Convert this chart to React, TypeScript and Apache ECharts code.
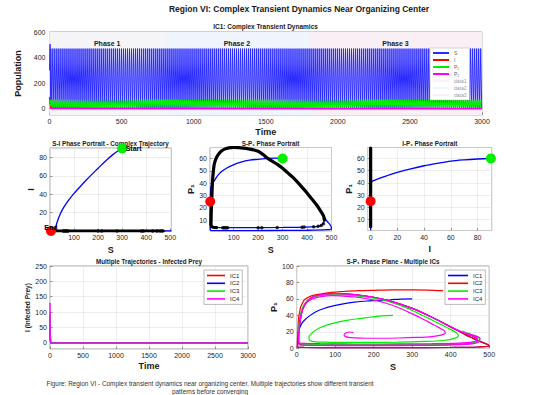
import React, { useEffect, useRef } from 'react';
import * as echarts from 'echarts';

const FONT = '"Liberation Sans", Arial, Helvetica, sans-serif';

// ---------- Top panel: IC1 time series ----------
const phaseNames = ['Phase 1', 'Phase 2', 'Phase 3'];
const phaseBounds = [0, 800, 1800, 3000];
const phaseColors = ['#f5f5f7', '#eff5fb', '#f9f0f6'];
const phaseSeriesNames = ['data1', 'data2', 'data3'];
const sOnset = [[0, 300], [4, 505], [9, 40]];
const sPeakTrough = [470, 2];
const p1Onset = [[0, 60], [4, 66], [9, 20]];
const p1PeakTrough = [70, 5];
const oscillationPeriod = 14;
const tEnd = 3000;
const iIC1 = [[0, 90], [3, 40], [8, 5], [15, 0.5], [3000, 0.3]];
const p2IC1 = [[0, 2], [3000, 1.5]];

// ---------- Middle panels: IC1 phase portraits ----------
const siTrajectory = [[300, 90], [280, 87], [260, 83], [240, 78.5], [220, 73.5], [200, 68.5], [175, 62], [150, 55.3], [125, 48.3], [100, 41], [80, 34.5], [65, 29], [50, 22.5], [40, 17], [32, 11.5], [26, 6.5], [22, 2.5], [19, 0.5], [14, 0], [4, 0], [60, 0], [505, 0]];
const spTrajectory = [[300, 60], [270, 60.2], [240, 60], [200, 59.3], [165, 58.6], [130, 57], [96, 54.6], [70, 52], [48, 49], [32, 45.5], [21, 42], [12, 39.5], [7, 37], [5, 32], [4, 25], [3.5, 15], [3.5, 6], [4.5, 2], [10, 1.4], [100, 1.4], [250, 1.5], [400, 1.7], [480, 2.2], [500, 3], [495, 6], [482, 9], [467, 13.5], [455, 17.5], [440, 22], [427, 25], [400, 32], [360, 41], [300, 52], [240, 60], [200, 65.8], [140, 68.4], [100, 68.9], [65, 67.8], [40, 64], [25, 58.5], [17, 50], [13, 41], [11, 31], [9, 21], [7.5, 11], [7.5, 6], [15, 4.1], [100, 3.9], [300, 4], [440, 4.7], [463, 6.5], [471, 10]];
const ipTrajectory = [[90, 60], [80, 59.5], [70, 58.8], [60, 57.8], [50, 56], [40, 54], [30, 51.5], [20, 48.6], [12, 45.8], [6, 43.5], [2, 41.8], [0.3, 40], [0, 30], [0, 1.4], [0, 68.9]];
// late-time (converged) trajectory, drawn in black
const lateLoopS = [471, 467, 455, 440, 420, 400, 380, 360, 340, 320, 300, 280, 260, 240, 220, 200, 180, 160, 140, 120, 100, 80, 65, 50, 40, 30, 25, 20, 17, 15, 13, 12, 11, 10, 9, 8, 7.5, 7, 9, 15, 30];
const lateLoopP1 = [10, 13.5, 17.5, 22, 27, 32, 36.5, 41, 45, 48.5, 52, 55, 57.5, 60, 63.2, 65.8, 67, 67.8, 68.4, 68.8, 68.9, 68.6, 67.8, 66, 64, 61, 58.5, 55, 50, 46, 41, 36, 31, 26, 21, 16, 11, 7, 5, 4.2, 3.9];
const lateDotsS = [55, 60, 65, 70, 75, 200, 215, 278, 380, 388, 427, 445, 458, 467];
const lateDotsP1 = [3.8, 3.8, 3.8, 3.8, 3.8, 3.8, 3.8, 3.9, 4.2, 4.3, 4.6, 4.9, 5.6, 7];
const startState = { S: 300, I: 90, P1: 60 };
const endState = { S: 4, I: 0, P1: 25 };

// ---------- Bottom-left: infected prey, 4 ICs ----------
const icNames = ['IC1', 'IC2', 'IC3', 'IC4'];
const infectedIC1 = [[0, 90], [4, 20], [10, 2], [20, 0], [3000, 0]];
const infectedIC2 = [[0, 70], [4, 15], [10, 1], [20, 0], [3000, 0]];
const infectedIC3 = [[0, 100], [4, 25], [10, 2], [20, 0], [3000, 0]];
const infectedIC4 = [[0, 130], [3, 40], [8, 5], [20, 0], [3000, 0]];

// ---------- Bottom-right: S-P1 plane, 4 ICs ----------
const planeIC1 = [[300, 60], [270, 59.8], [243, 59], [210, 58.3], [182, 57.5], [150, 56], [121, 54], [95, 51.5], [69, 48], [50, 44.5], [35, 40], [22, 35], [13, 30], [8, 25], [5, 20], [3, 12], [2.5, 5], [3, 1.5], [20, 1], [100, 0.8], [250, 0.8], [400, 1], [470, 1.6], [500, 3.2], [470, 9.5], [450, 14], [440, 16]];
const planeIC2 = [[380, 70], [340, 70.8], [300, 71], [250, 71], [200, 70.5], [160, 70], [120, 69], [90, 68], [60, 66], [40, 64], [30, 62], [20, 59], [15, 55], [10, 50], [8, 45], [5, 37], [4, 30], [3, 20], [2, 12], [1.5, 5], [2, 1.5], [20, 1], [100, 0.8], [250, 0.8], [400, 1], [470, 1.6], [500, 3.2], [470, 9.5], [450, 14], [440, 16]];
const planeAttractor = [[440, 16], [400, 26], [350, 38], [300, 48.5], [250, 56.5], [200, 62], [150, 65.3], [100, 66.5], [70, 65.5], [45, 63], [28, 58], [16, 48], [10, 36], [6, 22], [5, 10], [7, 5], [20, 4.3], [100, 4], [250, 4], [380, 4.5], [450, 6], [470, 9], [465, 13], [440, 18]];
const planeIC3 = [[250, 40], [220, 39.5], [178, 37], [130, 34], [91, 30], [60, 25], [42, 19.5], [32, 14], [33, 10], [45, 8.2], [70, 7.5], [120, 7.2], [178, 7.2], [264, 7.5], [330, 8.3], [380, 9.5], [410, 12], [420, 15.5], [415, 19], [395, 24], [370, 30], [340, 37], [300, 46], [264, 53], [220, 59], [178, 62.5], [130, 64.5], [91, 65], [60, 64], [35, 60.5], [20, 54], [12, 45], [7, 33], [5, 20], [5, 10], [9, 6], [30, 4.8], [100, 4.5], [250, 4.3], [380, 5], [450, 6.5], [475, 9.5], [472, 13], [455, 16.5], [430, 21]];
const planeIC4 = [[147, 19], [138, 19.8], [128, 18.5], [123, 16.5], [126, 14.5], [135, 13.2], [150, 12.6], [178, 12.2], [220, 12.2], [264, 12.5], [310, 13.2], [351, 14.3], [375, 16], [386, 18.5], [383, 21.5], [372, 24.5], [350, 30], [320, 37.5], [290, 44], [264, 49.5], [230, 55], [200, 58.5], [178, 60.5], [150, 62.5], [120, 63.5], [91, 64], [60, 62.5], [40, 60], [25, 55], [15, 47], [9, 37], [6, 25], [5, 15], [5, 9], [8, 6.5], [20, 6], [60, 5.6], [120, 5.3], [178, 5.2], [264, 5.3], [351, 5.6], [420, 6.3], [455, 7.5], [468, 10], [466, 13], [455, 15.5], [430, 20], [400, 26], [350, 38], [300, 48.5], [250, 56.5], [200, 62], [150, 65.3], [100, 66.5], [70, 65.5], [45, 63], [28, 58], [16, 48], [10, 36], [6, 22], [5, 10], [6, 5], [15, 3.8], [60, 3.4], [150, 3.2], [264, 3.3], [380, 3.8], [450, 5], [475, 8], [476, 12], [465, 15], [440, 18.5]];

const BLUE = '#0000ff';
const RED = '#ff0000';
const GREEN = '#00ee00';
const MAGENTA = '#ff00ff';

function oscillate(onset: number[][], peakTrough: number[], phase: number) {
  const out = onset.map((p) => p.slice());
  const t0 = onset[onset.length - 1][0] + phase;
  let k = 0;
  for (let t = t0; t <= tEnd; t += oscillationPeriod / 2) {
    out.push([t, peakTrough[k % 2]]);
    k++;
  }
  return out;
}

function mkAxis(gridIndex: number, o: any) {
  return {
    gridIndex,
    type: 'value',
    min: o.min,
    max: o.max,
    interval: o.interval,
    splitNumber: o.splitNumber,
    name: o.name,
    nameLocation: 'middle',
    nameGap: o.nameGap,
    nameTextStyle: { fontFamily: FONT, fontSize: o.nameSize || 9, fontWeight: 'bold', color: '#1a1a1a' },
    axisLine: { show: false, onZero: false },
    axisTick: { show: true, inside: true, length: 2.5, lineStyle: { color: '#555', width: 0.6 } },
    axisLabel: {
      fontFamily: FONT, fontSize: 7, color: '#262626', margin: o.margin ?? 3,
      formatter: (v: number) => String(Math.round(v * 100) / 100),
      showMinLabel: o.hideMin ? false : undefined,
      showMaxLabel: o.hideMax ? false : undefined,
    },
    splitLine: { show: true, lineStyle: { color: '#e3e3e3', width: 0.6 } },
  };
}

const gridBase = { show: true, borderColor: '#666', borderWidth: 0.6, backgroundColor: '#ffffff' };

function line(name: string, data: any, color: string, xi: number, width = 1.2, smooth: number | boolean = false) {
  return {
    name, type: 'line', data, xAxisIndex: xi, yAxisIndex: xi, showSymbol: false, symbol: 'none', smooth,
    lineStyle: { color, width }, itemStyle: { color }, z: 2, silent: true,
  };
}

function dot(name: string, point: number[], color: string, xi: number, label?: any) {
  return {
    name, type: 'scatter', data: [point], xAxisIndex: xi, yAxisIndex: xi, symbolSize: 10,
    itemStyle: { color, opacity: 1 }, z: 5, silent: true,
    label: label ? { show: true, fontFamily: FONT, fontSize: 7, fontWeight: 'bold', color: '#000', ...label } : { show: false },
  };
}

function buildOption() {
  const sData = oscillate(sOnset, sPeakTrough, 0);
  const p1Data = oscillate(p1Onset, p1PeakTrough, 3);
  const lateSP = lateLoopS.map((s, i) => [s, lateLoopP1[i]]);
  const lateSI = lateLoopS.map((s) => [s, 0]);
  const lateIP = lateLoopP1.map((p) => [0, p]);
  const dotsSP = lateDotsS.map((s, i) => [s, lateDotsP1[i]]);
  const dotsSI = lateDotsS.map((s) => [s, 0]);

  const phaseSeries = phaseSeriesNames.map((nm, i) => ({
    name: nm, type: 'line', data: [], xAxisIndex: 0, yAxisIndex: 0, z: 1, silent: true,
    itemStyle: { color: phaseColors[i] }, lineStyle: { color: phaseColors[i] },
    markArea: {
      silent: true,
      itemStyle: { color: phaseColors[i] },
      label: { show: true, position: 'insideTop', distance: 8, fontFamily: FONT, fontSize: 7, fontWeight: 'bold', color: '#1a1a1a' },
      data: [[{ xAxis: phaseBounds[i], name: phaseNames[i] }, { xAxis: phaseBounds[i + 1] }]],
    },
  }));

  const blackLine = (name: string, data: any, xi: number) => ({
    name, type: 'line', data, xAxisIndex: xi, yAxisIndex: xi, showSymbol: false, symbol: 'none', z: 3, silent: true,
    smooth: 0.3,
    lineStyle: { color: '#000', width: 3.2, cap: 'round', join: 'round' },
  });
  const blackDots = (name: string, data: any, xi: number) => ({
    name, type: 'scatter', data, xAxisIndex: xi, yAxisIndex: xi, symbolSize: 3.5, z: 3, silent: true,
    itemStyle: { color: '#000' },
  });

  const title = (text: string, x: number, y: number, size: number) => ({
    type: 'text', x, y, silent: true,
    style: { text, fontFamily: FONT, fontSize: size, fontWeight: 'bold', fill: '#1a1a1a', align: 'center', verticalAlign: 'middle' },
  });

  const legendText = { fontFamily: FONT, fontSize: 6, color: '#262626', lineHeight: 7 };

  return {
    animation: false,
    backgroundColor: '#ffffff',
    textStyle: { fontFamily: FONT },
    graphic: [
      title('Region VI: Complex Transient Dynamics Near Organizing Center', 299, 9, 8.5),
      title('IC1: Complex Transient Dynamics', 265.5, 26, 6.5),
      title('S-I Phase Portrait - Complex Trajectory', 110.5, 143, 6.3),
      title('S-P₁ Phase Portrait', 270.5, 143, 6.3),
      title('I-P₁ Phase Portrait', 429.7, 143, 6.3),
      title('Multiple Trajectories - Infected Prey', 149, 261.5, 6.3),
      title('S-P₁ Phase Plane - Multiple ICs', 393, 261.5, 6.3),
      {
        type: 'text', x: 210, y: 383.5, silent: true,
        style: { text: 'Figure: Region VI - Complex transient dynamics near organizing center. Multiple trajectories show different transient', fontFamily: FONT, fontSize: 6.4, fill: '#333', align: 'center', verticalAlign: 'middle' },
      },
      {
        type: 'text', x: 210, y: 391, silent: true,
        style: { text: 'patterns before converging', fontFamily: FONT, fontSize: 6.4, fill: '#333', align: 'center', verticalAlign: 'middle' },
      },
    ],
    grid: [
      { ...gridBase, left: 49.5, top: 32, width: 432.5, height: 83 },
      { ...gridBase, left: 50, top: 148, width: 121.5, height: 83 },
      { ...gridBase, left: 210, top: 147.5, width: 121.5, height: 83.5 },
      { ...gridBase, left: 367.7, top: 147.5, width: 124, height: 83 },
      { ...gridBase, left: 50, top: 266, width: 198, height: 83 },
      { ...gridBase, left: 296.7, top: 266, width: 192.5, height: 82.3 },
    ],
    xAxis: [
      mkAxis(0, { min: 0, max: 3000, interval: 500, name: 'Time', nameGap: 12 }),
      mkAxis(1, { min: 0, max: 505, splitNumber: 5, name: 'S', nameGap: 14, hideMin: true, hideMax: true }),
      mkAxis(2, { min: 3, max: 500, splitNumber: 5, name: 'S', nameGap: 14, hideMin: true }),
      mkAxis(3, { min: -2.2, max: 90.6, splitNumber: 5, name: 'I', nameGap: 14, hideMin: true, hideMax: true }),
      mkAxis(4, { min: 0, max: 3000, interval: 500, name: 'Time', nameGap: 12.5 }),
      mkAxis(5, { min: 0, max: 500, interval: 100, name: 'S', nameGap: 14 }),
    ],
    yAxis: [
      mkAxis(0, { min: -50, max: 600, splitNumber: 3, name: 'Population', nameGap: 17, hideMin: true, margin: 4 }),
      mkAxis(1, { min: 0, max: 90.5, splitNumber: 5, name: 'I', nameGap: 12, hideMin: true, hideMax: true }),
      mkAxis(2, { min: 1.1, max: 68.9, splitNumber: 7, name: 'P₁', nameGap: 14, hideMin: true, hideMax: true }),
      mkAxis(3, { min: 1.1, max: 68.9, splitNumber: 7, name: 'P₁', nameGap: 11, hideMin: true, hideMax: true }),
      mkAxis(4, { min: -20, max: 250, splitNumber: 5, name: 'I (Infected Prey)', nameGap: 17, nameSize: 6.5, hideMin: true }),
      mkAxis(5, { min: 0, max: 100, interval: 20, name: 'P₁', nameGap: 16.5 }),
    ],
    legend: [
      {
        orient: 'vertical', left: 430, top: 48, padding: [2, 3, 2, 3], itemGap: 1, itemWidth: 16, itemHeight: 2,
        icon: 'rect', selectedMode: false, backgroundColor: '#fff', borderColor: '#aaa', borderWidth: 0.5,
        textStyle: { fontFamily: FONT, fontSize: 5, color: '#666', lineHeight: 6 },
        data: ['S', 'I', 'P₁', 'P₂', ...phaseSeriesNames.map((n) => ({ name: n, textStyle: { color: '#999' } }))],
      },
      {
        orient: 'vertical', left: 204, top: 270, padding: [2, 3, 2, 3], itemGap: 0.8, itemWidth: 18, itemHeight: 1.6,
        icon: 'rect', selectedMode: false, backgroundColor: '#fff', borderColor: '#777', borderWidth: 0.5,
        textStyle: legendText, data: icNames,
      },
      {
        orient: 'vertical', left: 445, top: 270, padding: [2, 3, 2, 3], itemGap: 0.8, itemWidth: 20, itemHeight: 1.6,
        icon: 'rect', selectedMode: false, backgroundColor: '#fff', borderColor: '#777', borderWidth: 0.5,
        textStyle: legendText, data: icNames.map((n) => n + '_b'),
        formatter: (n: string) => n.replace('_b', ''),
      },
    ],
    series: [
      ...phaseSeries,
      line('S', sData, '#2a2aff', 0, 1.0),
      line('I', iIC1, RED, 0, 1.2),
      line('P₁', p1Data, GREEN, 0, 1.1),
      line('P₂', p2IC1, MAGENTA, 0, 1.5),

      line('S-I trajectory', siTrajectory, BLUE, 1, 1.3, 0.25),
      blackLine('S-I late', lateSI, 1),
      blackDots('S-I late dots', dotsSI, 1),
      dot('S-I start', [startState.S, startState.I], GREEN, 1, { formatter: 'Start', position: 'right', distance: -1.5 }),
      dot('S-I end', [endState.S, endState.I], RED, 1, { formatter: 'End', position: 'top', distance: -4.5 }),

      line('S-P1 trajectory', spTrajectory, BLUE, 2, 1.3, 0.3),
      blackLine('S-P1 late', lateSP, 2),
      blackDots('S-P1 late dots', dotsSP, 2),
      dot('S-P1 start', [startState.S, startState.P1], GREEN, 2),
      dot('S-P1 end', [endState.S, endState.P1], RED, 2),

      line('I-P1 trajectory', ipTrajectory, BLUE, 3, 1.3, 0.3),
      blackLine('I-P1 late', lateIP, 3),
      dot('I-P1 start', [startState.I, startState.P1], GREEN, 3),
      dot('I-P1 end', [endState.I, endState.P1], RED, 3),

      line('IC1', infectedIC1, RED, 4, 1.4),
      line('IC2', infectedIC2, BLUE, 4, 1.4),
      line('IC3', infectedIC3, GREEN, 4, 1.4),
      line('IC4', infectedIC4, MAGENTA, 4, 1.4),

      line('IC1_b', planeIC1.concat(planeAttractor), BLUE, 5, 1.2, 0.3),
      line('IC2_b', planeIC2.concat(planeAttractor), RED, 5, 1.2, 0.3),
      line('IC3_b', planeIC3, GREEN, 5, 1.2, 0.3),
      line('IC4_b', planeIC4, MAGENTA, 5, 1.2, 0.3),
    ],
  };
}

export default function App() {
  const ref = useRef<HTMLDivElement>(null);
  useEffect(() => {
    if (!ref.current) return;
    const chart = echarts.init(ref.current, null, { renderer: 'svg' });
    chart.setOption(buildOption() as any);
    return () => chart.dispose();
  }, []);
  return <div ref={ref} style={{ position: 'absolute', left: 0, top: 0, width: 533, height: 395, background: '#fff' }} />;
}
